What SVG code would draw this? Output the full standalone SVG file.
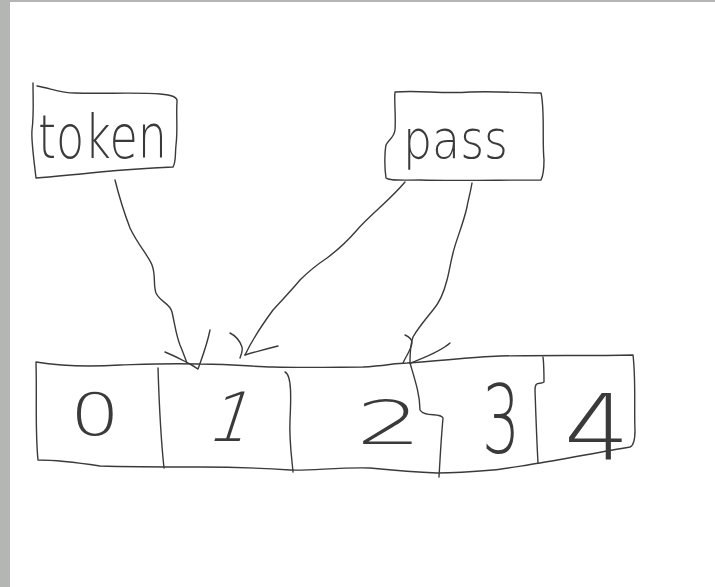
<svg xmlns="http://www.w3.org/2000/svg" width="715" height="587" viewBox="0 0 715 587">
<style>
.ink{fill:none;stroke:#3a3a3a;stroke-width:1.4;stroke-linecap:round;stroke-linejoin:round}
.hand{font-family:"DejaVu Sans","Liberation Sans",sans-serif;font-weight:200;fill:#3a3a3a}
</style>
<rect x="0" y="0" width="715" height="587" fill="#b4b6b4"/>
<rect x="10" y="2" width="705" height="585" fill="#ffffff"/>
<g id="token">
<path class="ink" d="M37,86 C50,88 60,93 75,93 C100,94 140,92 160,94 C172,95 178,97 177,102 C176,115 178,130 176,145 C175,155 176,163 173,167 C150,168 120,170 100,172 C80,174 60,176 36,178 C34,160 31,140 32,130 C34,115 33,100 33,83"/>
<text class="hand" x="38" y="158" font-size="60" textLength="129" lengthAdjust="spacingAndGlyphs">token</text>
</g>
<g id="pass">
<path class="ink" d="M395,92 C420,90 440,94 470,92 C500,91 520,93 541,93 C545,110 542,140 544,160 C544,170 543,176 541,180 C500,180 450,181 420,180 C400,180 390,181 386,178 C384,165 385,150 386,145 C388,140 394,138 395,130 C396,115 394,100 395,92"/>
<text class="hand" x="403" y="158" font-size="54" textLength="105" lengthAdjust="spacingAndGlyphs">pass</text>
</g>
<g id="array">
<path class="ink" d="M36,362 C60,366 90,367 120,365 C150,364 170,363 200,364 C240,364 250,367 273,367 C310,368 340,367 363,367 C385,366 395,363 407,363 C440,361 470,357 500,356 C540,355 590,356 633,355 C636,380 634,410 635,430 C635,440 633,446 630,447 C600,452 570,458 540,463 C520,466 505,469 493,470 C470,472 450,473 437,473 C410,472 390,470 370,468 C340,467 310,471 290,470 C260,468 230,467 200,467 C170,467 130,467 100,466 C80,463 60,460 38,460 C35,430 37,400 36,362"/>
</g>
<g id="cell0">
<text class="hand" x="70" y="435" font-size="58" textLength="50" lengthAdjust="spacingAndGlyphs">0</text>
</g>
<g id="cell1">
<path class="ink" d="M158,368 C159,400 161,440 164,468"/>
<text class="hand" x="226" y="441" font-size="68" text-anchor="middle" transform="translate(226 441) skewX(-18) translate(-226 -441)">1</text>
</g>
<g id="cell2">
<path class="ink" d="M285,372 C292,375 291,400 290,420 C289,440 292,460 293,472"/>
<text class="hand" x="356" y="444" font-size="60" textLength="66" lengthAdjust="spacingAndGlyphs">2</text>
</g>
<g id="cell3">
<path class="ink" d="M410,363 C415,380 420,395 420,410 C425,418 440,412 443,418 C441,440 440,460 439,477"/>
<text class="hand" x="482" y="453" font-size="94" textLength="38" lengthAdjust="spacingAndGlyphs">3</text>
</g>
<g id="cell4">
<path class="ink" d="M543,357 C544,365 544,375 544,382 C540,385 535,380 535,390 C536,420 537,445 538,463"/>
<text class="hand" x="564" y="460" font-size="90" textLength="66" lengthAdjust="spacingAndGlyphs">4</text>
</g>
<g id="connectors">
<path class="ink" d="M115,180 C120,200 125,215 130,228 C138,245 148,255 152,265 C156,275 153,285 156,293 C160,302 170,303 172,312 C175,325 176,335 180,345 C183,352 185,358 187,363"/>
<path class="ink" d="M165,352 C175,356 182,360 190,364 C194,366 196,368 198,369 C203,355 207,345 210,330"/>
<path class="ink" d="M405,182 C390,200 370,215 357,230 C345,244 335,252 327,258 C315,266 308,272 300,280 C290,292 282,300 273,310 C262,325 252,340 245,355"/>
<path class="ink" d="M245,355 C255,352 266,349 278,346"/>
<path class="ink" d="M230,333 C236,336 240,341 242,347 C243,351 241,355 240,358"/>
<path class="ink" d="M472,183 C470,195 468,200 467,207 C463,225 456,240 453,253 C450,265 449,273 447,280 C444,292 440,302 433,310 C425,320 418,328 413,337 C410,345 410,355 410,363"/>
<path class="ink" d="M405,335 C410,337 412,340 412,343 C411,350 406,356 403,363"/>
<path class="ink" d="M411,363 C425,357 440,352 450,343"/>
</g>
</svg>
